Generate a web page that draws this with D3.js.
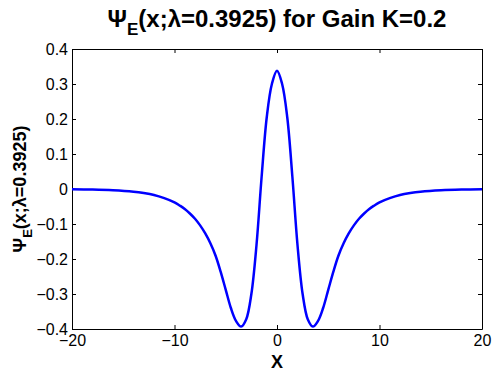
<!DOCTYPE html>
<html>
<head>
<meta charset="utf-8">
<script src="https://cdn.jsdelivr.net/npm/d3@7"></script>
<style>
  body { margin: 0; background: #fff; }
  svg { display: block; font-family: "Liberation Sans", Arial, sans-serif; }
</style>
</head>
<body>
<div id="chart"></div>
<script>
// values
var xs = [-20, -18, -16, -14, -13, -12, -11, -10, -9.5, -9, -8.5, -8, -7.5, -7, -6.5, -6, -5.5, -5, -4.5, -4, -3.5, -3, -2.5, -2, -1.5, -1, -0.5,
          0, 0.5, 1, 1.5, 2, 2.5, 3, 3.5, 4, 4.5, 5, 5.5, 6, 6.5, 7, 7.5, 8, 8.5, 9, 9.5, 10, 11, 12, 13, 14, 16, 18, 20];
var psi = [-0.0007, -0.0015, -0.0035, -0.0077, -0.0115, -0.017, -0.026, -0.038, -0.047, -0.057, -0.070, -0.085, -0.104, -0.127, -0.155, -0.19, -0.236, -0.288, -0.34, -0.377, -0.393, -0.372, -0.30, -0.16, 0.035, 0.205, 0.30,
           0.338, 0.30, 0.205, 0.035, -0.16, -0.30, -0.372, -0.393, -0.377, -0.34, -0.288, -0.236, -0.19, -0.155, -0.127, -0.104, -0.085, -0.070, -0.057, -0.047, -0.038, -0.026, -0.017, -0.0115, -0.0077, -0.0035, -0.0015, -0.0007];
var xTicks = [-20, -10, 0, 10, 20];
var yTicks = [-0.4, -0.3, -0.2, -0.1, 0, 0.1, 0.2, 0.3, 0.4];

var width = 492, height = 373;
var margin = {top: 49, right: 10, bottom: 44, left: 72};

var svg = d3.select("#chart").append("svg")
    .attr("width", width)
    .attr("height", height);

var x = d3.scaleLinear().domain([-20, 20]).range([margin.left, width - margin.right]);
var y = d3.scaleLinear().domain([-0.4, 0.4]).range([height - margin.bottom, margin.top]);

var fmtY = function(d) { return d === 0 ? "0" : d3.format(".1f")(d).replace("-", "\u2212"); };
var fmtX = function(d) { return String(d).replace("-", "\u2212"); };

// bottom / left axes with labels, ticks drawn inward
var tickLen = 4;
var gx = svg.append("g").attr("transform", "translate(0," + y.range()[0] + ")")
    .call(d3.axisBottom(x).tickValues(xTicks).tickFormat(fmtX).tickSizeInner(-tickLen).tickSizeOuter(0).tickPadding(6));
var gy = svg.append("g").attr("transform", "translate(" + margin.left + ",0)")
    .call(d3.axisLeft(y).tickValues(yTicks).tickFormat(fmtY).tickSizeInner(-tickLen).tickSizeOuter(0).tickPadding(4));
// top / right ticks without labels
var gxt = svg.append("g").attr("transform", "translate(0," + margin.top + ")")
    .call(d3.axisTop(x).tickValues(xTicks).tickFormat("").tickSizeInner(-tickLen).tickSizeOuter(0));
var gyr = svg.append("g").attr("transform", "translate(" + (width - margin.right) + ",0)")
    .call(d3.axisRight(y).tickValues(yTicks).tickFormat("").tickSizeInner(-tickLen).tickSizeOuter(0));

[gx, gy, gxt, gyr].forEach(function(g) {
    g.select(".domain").attr("stroke", "#000").attr("stroke-width", 1);
    g.selectAll(".tick line").attr("stroke", "#000");
    g.selectAll("text").attr("fill", "#000").style("font-size", "16px").style("font-family", "Liberation Sans, Arial, sans-serif");
});

// curve
var line = d3.line()
    .x(function(d, i) { return x(xs[i]); })
    .y(function(d) { return y(d); })
    .curve(d3.curveCatmullRom.alpha(0.5));

svg.append("path")
    .datum(psi)
    .attr("fill", "none")
    .attr("stroke", "#0000ff")
    .attr("stroke-width", 2.5)
    .attr("d", line);

// title
var title = svg.append("text")
    .attr("x", (margin.left + width - margin.right) / 2)
    .attr("y", 27)
    .attr("text-anchor", "middle")
    .style("font-weight", "bold")
    .style("font-size", "24px");
title.append("tspan").text("\u03A8");
title.append("tspan").attr("dy", 8).style("font-size", "17px").text("E");
title.append("tspan").attr("dy", -8).text("(x;\u03BB=0.3925) for Gain K=0.2");

// x label
svg.append("text")
    .attr("x", x(0))
    .attr("y", 368)
    .attr("text-anchor", "middle")
    .style("font-weight", "bold")
    .style("font-size", "18px")
    .text("X");

// y label
var ylab = svg.append("text")
    .attr("transform", "translate(26," + ((margin.top + height - margin.bottom) / 2) + ") rotate(-90)")
    .attr("text-anchor", "middle")
    .style("font-weight", "bold")
    .style("font-size", "18px");
ylab.append("tspan").text("\u03A8");
ylab.append("tspan").attr("dy", 6).style("font-size", "13px").text("E");
ylab.append("tspan").attr("dy", -6).text("(x;\u03BB=0.3925)");
</script>
</body>
</html>
